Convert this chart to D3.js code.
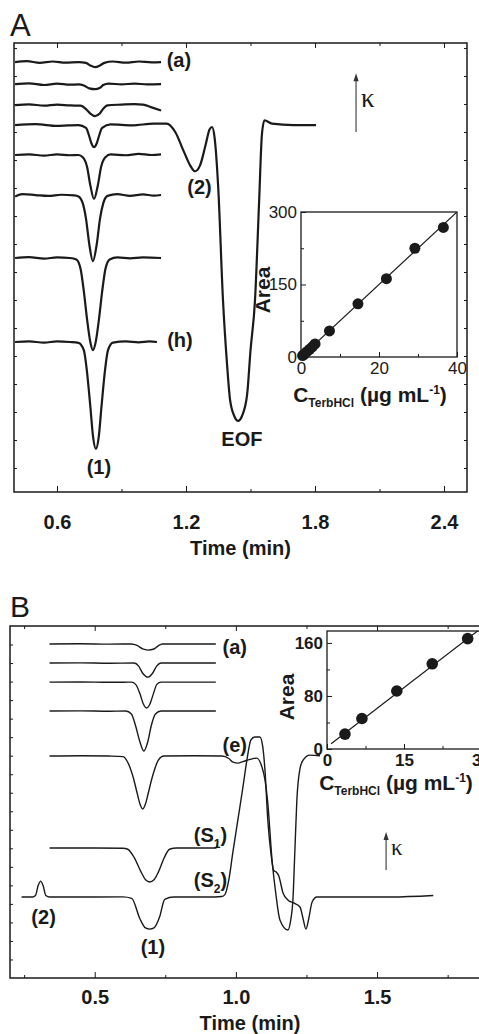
<!DOCTYPE html>
<html>
<head>
<meta charset="utf-8">
<script src="https://cdn.jsdelivr.net/npm/d3@7"></script>
<style>
body { margin: 0; background: #fff; }
svg { display: block; }
text { font-family: "Liberation Sans", Arial, sans-serif; fill: #1a1a1a; }
</style>
</head>
<body>
<div id="fig"></div>
<script>
// ---- panel A electropherograms: [time (min), signal (a.u.)] ----
const traceAa = [[0.405,14.5],[0.46,14.53],[0.52,14.47],[0.58,14.52],[0.64,14.48],[0.70,14.5],[0.735,14.47],[0.755,14.38],[0.777,14.32],[0.80,14.38],[0.82,14.47],[0.86,14.52],[0.92,14.48],[0.98,14.52],[1.04,14.49],[1.084,14.5]]
const traceAb = [[0.405,13.71],[0.47,13.74],[0.54,13.68],[0.60,13.73],[0.66,13.69],[0.70,13.7],[0.725,13.66],[0.75,13.56],[0.777,13.53],[0.80,13.58],[0.815,13.68],[0.84,13.73],[0.90,13.7],[0.96,13.73],[1.02,13.7],[1.084,13.71]]
const traceAc = [[0.405,12.96],[0.47,12.99],[0.54,12.94],[0.60,12.98],[0.66,12.95],[0.71,12.94],[0.735,12.82],[0.755,12.66],[0.777,12.57],[0.80,12.67],[0.815,12.83],[0.835,12.95],[0.90,12.98],[0.96,13.0],[1.0,12.98],[1.04,12.88],[1.084,12.77]]
const traceAd = [[0.405,12.25],[0.5,12.28],[0.6,12.22],[0.7,12.25],[0.735,12.15],[0.75,11.85],[0.76,11.6],[0.772,11.46],[0.785,11.6],[0.795,11.85],[0.81,12.15],[0.85,12.27],[0.95,12.24],[1.05,12.3],[1.11,12.3],[1.15,12.0],[1.19,11.3],[1.22,10.8],[1.242,10.6],[1.265,10.8],[1.29,11.5],[1.31,12.1],[1.321,12.18],[1.333,11.8],[1.35,10.0],[1.372,6.0],[1.39,3.8],[1.405,2.43],[1.425,1.85],[1.442,1.68],[1.46,1.85],[1.484,2.6],[1.50,4.2],[1.521,6.0],[1.54,9.5],[1.553,11.9],[1.565,12.42],[1.6,12.3],[1.7,12.25],[1.805,12.25]]
const traceAe = [[0.405,11.18],[0.47,11.2],[0.54,11.16],[0.60,11.2],[0.66,11.17],[0.70,11.18],[0.72,11.1],[0.74,10.75],[0.755,10.1],[0.772,9.61],[0.79,10.1],[0.805,10.75],[0.825,11.1],[0.85,11.2],[0.92,11.17],[0.98,11.22],[1.04,11.18],[1.084,11.2]]
const traceAf = [[0.405,9.7],[0.44,9.78],[0.5,9.75],[0.56,9.72],[0.62,9.76],[0.68,9.74],[0.70,9.7],[0.72,9.45],[0.735,8.9],[0.75,8.0],[0.767,7.39],[0.785,8.0],[0.80,8.9],[0.815,9.45],[0.835,9.72],[0.88,9.78],[0.94,9.72],[1.0,9.77],[1.05,9.73],[1.084,9.75]]
const traceAg = [[0.405,7.5],[0.47,7.53],[0.54,7.48],[0.60,7.52],[0.66,7.5],[0.69,7.45],[0.71,7.1],[0.725,6.3],[0.74,5.3],[0.755,4.5],[0.767,4.21],[0.78,4.5],[0.795,5.3],[0.81,6.3],[0.825,7.1],[0.845,7.45],[0.88,7.52],[0.94,7.49],[1.0,7.52],[1.084,7.5]]
const traceAh = [[0.405,4.5],[0.47,4.52],[0.54,4.48],[0.60,4.52],[0.66,4.5],[0.70,4.47],[0.725,4.2],[0.74,3.4],[0.755,2.2],[0.768,1.1],[0.781,0.68],[0.794,1.1],[0.807,2.2],[0.822,3.4],[0.837,4.2],[0.86,4.48],[0.92,4.52],[0.98,4.49],[1.03,4.52],[1.065,4.5]]
const tracesA = [traceAa, traceAb, traceAc, traceAd, traceAe, traceAf, traceAg, traceAh]

// ---- panel B electropherograms ----
const traceBa = [[0.34,17.03],[0.45,17.04],[0.55,17.02],[0.63,17.03],[0.65,16.95],[0.67,16.76],[0.688,16.7],[0.71,16.76],[0.725,16.93],[0.74,17.03],[0.82,17.03],[0.929,17.03]]
const traceBb = [[0.34,16.0],[0.45,16.01],[0.55,15.99],[0.64,16.0],[0.655,15.85],[0.67,15.45],[0.688,15.24],[0.705,15.45],[0.72,15.85],[0.735,16.0],[0.82,16.0],[0.929,16.0]]
const traceBc = [[0.34,14.97],[0.45,14.98],[0.55,14.96],[0.63,14.97],[0.645,14.85],[0.66,14.35],[0.672,13.8],[0.684,13.57],[0.696,13.8],[0.708,14.35],[0.72,14.85],[0.735,14.97],[0.82,14.97],[0.929,14.97]]
const traceBd = [[0.34,13.41],[0.45,13.42],[0.55,13.4],[0.61,13.41],[0.63,13.25],[0.645,12.6],[0.66,11.75],[0.674,11.25],[0.688,11.75],[0.70,12.6],[0.715,13.25],[0.735,13.41],[0.82,13.41],[0.929,13.41]]
const traceBe = [[0.34,10.98],[0.45,11.0],[0.55,10.98],[0.60,10.95],[0.615,10.7],[0.635,9.9],[0.65,9.0],[0.66,8.4],[0.67,8.12],[0.68,8.4],[0.69,9.0],[0.705,9.9],[0.725,10.75],[0.745,10.98],[0.85,11.0],[0.95,10.98],[0.975,10.85],[0.99,10.65],[1.007,10.6],[1.025,10.68],[1.05,10.8],[1.074,10.87],[1.092,10.4],[1.103,9.7],[1.113,8.44],[1.128,5.37],[1.142,3.48],[1.156,2.13],[1.184,1.59],[1.195,2.2],[1.202,3.21],[1.209,5.9],[1.216,8.61],[1.227,10.3],[1.238,10.76],[1.262,11.03],[1.298,11.0]]
const traceBS1 = [[0.34,6.02],[0.5,6.02],[0.6,6.0],[0.617,5.95],[0.64,5.5],[0.665,4.7],[0.68,4.3],[0.695,4.18],[0.71,4.3],[0.725,4.7],[0.745,5.45],[0.765,5.95],[0.79,6.02],[0.9,6.02],[0.93,6.02],[0.936,6.4]]
const traceBS2 = [[0.241,3.37],[0.28,3.37],[0.29,3.45],[0.30,4.0],[0.3085,4.23],[0.317,4.0],[0.327,3.45],[0.34,3.37],[0.45,3.37],[0.6,3.38],[0.631,3.3],[0.66,2.2],[0.68,1.7],[0.695,1.64],[0.71,1.7],[0.73,2.3],[0.748,3.25],[0.78,3.37],[0.9,3.37],[0.95,3.4],[0.961,3.5],[0.975,4.3],[0.989,5.75],[1.007,7.53],[1.025,9.31],[1.039,10.76],[1.053,11.84],[1.067,12.01],[1.085,12.01],[1.095,11.5],[1.103,10.22],[1.113,7.53],[1.124,5.75],[1.134,4.8],[1.143,4.72],[1.152,4.5],[1.167,3.59],[1.185,3.2],[1.205,3.05],[1.227,2.83],[1.238,2.2],[1.248,1.64],[1.258,2.2],[1.27,3.1],[1.287,3.37],[1.4,3.37],[1.55,3.37],[1.699,3.45]]
const tracesB = [traceBa, traceBb, traceBc, traceBd, traceBe, traceBS1, traceBS2]

// ---- axis ticks ----
const timeTicksA = [0.6, 1.2, 1.8, 2.4]
const timeMinorA = [0.9, 1.5, 2.1]
const timeTicksB = [0.5, 1.0, 1.5]
const timeMinorB = [0.25, 0.75, 1.25, 1.75]

// ---- calibration insets ----
const concA = [0.4, 0.9, 1.5, 2.2, 2.9, 3.6, 7.3, 14.6, 21.9, 29.2, 36.5]
const areaA = [3, 6, 11, 16, 21, 27, 54, 110, 162, 225, 268]
const fitA = [[0, 0], [40, 300]]
const concTicksA = [0, 20, 40], concMinorA = [10, 30]
const areaTicksA = [0, 150, 300], areaMinorA = [75, 225]

const concB = [3.5, 6.8, 13.6, 20.5, 27.4]
const areaB = [22.5, 46, 87.5, 128.5, 166.5]
const fitB = [[0.8, 8], [30, 182]]
const concTicksB = [0, 15, 30], concMinorB = [7.5, 22.5]
const areaTicksB = [0, 80, 160], areaMinorB = [40, 120]

// peak labels [text, sub, time, signal]
const labelsA = [['(a)', '', 1.167, 14.57], ['(h)', '', 1.172, 4.57], ['(2)', '', 1.263, 10.04], ['EOF', '', 1.46, 1.04], ['(1)', '', 0.795, 0.04]]
const labelsB = [['(a)', '', 0.996, 16.86], ['(e)', '', 0.996, 11.57], ['(S', '1', 0.91, 6.72], ['(S', '2', 0.91, 4.29], ['(2)', '', 0.319, 2.29], ['(1)', '', 0.706, 0.67]]

// conductivity arrows [time, from, to]
const kappaA = [1.991, 12.0, 14.1]
const kappaB = [1.532, 4.83, 6.88]

const W = 479, H = 1034
const ink = '#1a1a1a'
const svg = d3.select('#fig').append('svg').attr('width', W).attr('height', H)

const xA = d3.scaleLinear().domain([0.4, 2.507]).range([14, 467])
const yA = d3.scaleLinear().domain([-0.857, 15.18]).range([492, 43])
const xB = d3.scaleLinear().domain([0.2, 1.9]).range([10, 490])
const yB = d3.scaleLinear().domain([-1, 18]).range([978, 626])

const tickGroup = (g, axis, transform) => {
    let a = g.append('g').attr('transform', transform).call(axis)
    a.select('.domain').remove()
    a.selectAll('line').attr('stroke', ink).attr('stroke-width', 1)
    return a
}

const drawFrame = (g, x, y, sw) => {
    g.append('rect')
        .attr('x', x.range()[0]).attr('y', y.range()[1])
        .attr('width', x.range()[1] - x.range()[0])
        .attr('height', y.range()[0] - y.range()[1])
        .attr('fill', 'none').attr('stroke', ink).attr('stroke-width', sw)
}

const drawMain = (g, x, y, major, minor, yticks, pad, fmt, traces, sw) => {
    let b = y.range()[0], t = y.range()[1], l = x.range()[0], r = x.range()[1]
    tickGroup(g, d3.axisBottom(x).tickValues(major).tickSize(-6).tickPadding(pad).tickFormat(fmt), `translate(0,${b})`)
        .selectAll('text').attr('font-size', 20).attr('font-weight', 'bold')
        .style('font-family', '"Liberation Sans", Arial, sans-serif').attr('fill', ink)
    tickGroup(g, d3.axisBottom(x).tickValues(minor).tickSize(-3).tickFormat(''), `translate(0,${b})`)
    tickGroup(g, d3.axisTop(x).tickValues(major).tickSize(-5).tickFormat(''), `translate(0,${t})`)
    tickGroup(g, d3.axisTop(x).tickValues(minor).tickSize(-3).tickFormat(''), `translate(0,${t})`)
    tickGroup(g, d3.axisLeft(y).tickValues(yticks).tickSize(-3).tickFormat(''), `translate(${l},0)`)
    tickGroup(g, d3.axisRight(y).tickValues(yticks).tickSize(-3).tickFormat(''), `translate(${r},0)`)
    drawFrame(g, x, y, 1.5)

    let line = d3.line().x(d => x(d[0])).y(d => y(d[1])).curve(d3.curveMonotoneX)
    g.append('g').selectAll('path')
        .data(traces)
        .enter()
        .append('path')
        .attr('d', line)
        .attr('fill', 'none')
        .attr('stroke', ink)
        .attr('stroke-width', sw)
        .attr('stroke-linejoin', 'round')
}

const drawLabels = (g, x, y, labels) => {
    let txt = g.append('g').selectAll('text')
        .data(labels)
        .enter()
        .append('text')
        .attr('x', d => x(d[2]))
        .attr('y', d => y(d[3]))
        .attr('dy', '0.36em')
        .attr('text-anchor', 'middle')
        .attr('font-size', 20)
        .attr('font-weight', 'bold')
    txt.append('tspan').text(d => d[0])
    txt.filter(d => d[1] != '').append('tspan').attr('font-size', 12).attr('dy', 6).text(d => d[1])
    txt.filter(d => d[1] != '').append('tspan').attr('dy', -6).text(')')
}

const drawKappa = (g, x, y, k, fs) => {
    let px = x(k[0]), y0 = y(k[1]), y1 = y(k[2])
    g.append('line').attr('x1', px).attr('x2', px).attr('y1', y0).attr('y2', y1 + 7)
        .attr('stroke', '#555').attr('stroke-width', 1.3)
    g.append('path').attr('d', `M${px - 2.6},${y1 + 8}L${px},${y1}L${px + 2.6},${y1 + 8}Z`).attr('fill', '#333')
    g.append('text').attr('x', px + 5).attr('y', (y0 + y1) / 2 + 4)
        .attr('font-size', fs).style('font-family', '"Liberation Serif", "DejaVu Serif", serif')
        .attr('fill', '#333').text('\u03ba')
}

const xLabel = (g, cx, cy, fs) => {
    let t = g.append('text').attr('x', cx).attr('y', cy).attr('text-anchor', 'middle')
        .attr('font-size', fs).attr('font-weight', 'bold')
    t.append('tspan').text('C')
    t.append('tspan').attr('font-size', 12).attr('dy', 5).text('TerbHCl')
    t.append('tspan').attr('dy', -5).text(' (\u00b5g mL')
    t.append('tspan').attr('font-size', 12).attr('dy', -8).text('-1')
    t.append('tspan').attr('dy', 8).text(')')
}

const drawInset = (g, x, y, conc, area, fit, cT, cM, aT, aM, bold, r, areaPos, labelPos) => {
    let fw = bold ? 'bold' : 'normal'
    let b = y.range()[0], t = y.range()[1], l = x.range()[0], rr = x.range()[1]
    let id = 'clip' + Math.round(l)
    g.append('clipPath').attr('id', id).append('rect')
        .attr('x', l).attr('y', t).attr('width', rr - l).attr('height', b - t)

    let ax = tickGroup(g, d3.axisBottom(x).tickValues(cT).tickSize(-5).tickPadding(5).tickFormat(d3.format('d')), `translate(0,${b})`)
    ax.selectAll('text').attr('font-size', 17).attr('font-weight', fw)
        .style('font-family', '"Liberation Sans", Arial, sans-serif').attr('fill', ink)
    tickGroup(g, d3.axisBottom(x).tickValues(cM).tickSize(-3).tickFormat(''), `translate(0,${b})`)
    let ay = tickGroup(g, d3.axisLeft(y).tickValues(aT).tickSize(-5).tickPadding(4).tickFormat(d3.format('d')), `translate(${l},0)`)
    ay.selectAll('text').attr('font-size', 17).attr('font-weight', fw)
        .style('font-family', '"Liberation Sans", Arial, sans-serif').attr('fill', ink)
    tickGroup(g, d3.axisLeft(y).tickValues(aM).tickSize(-3).tickFormat(''), `translate(${l},0)`)
    drawFrame(g, x, y, 1.3)

    g.append('path')
        .attr('d', d3.line().x(d => x(d[0])).y(d => y(d[1]))(fit))
        .attr('clip-path', `url(#${id})`)
        .attr('stroke', ink).attr('stroke-width', 1.2).attr('fill', 'none')

    g.append('g').selectAll('circle')
        .data(conc)
        .enter()
        .append('circle')
        .attr('cx', d => x(d))
        .attr('cy', (d, i) => y(area[i]))
        .attr('r', r)
        .attr('fill', ink)

    g.append('text')
        .attr('transform', `translate(${areaPos[0]},${areaPos[1]}) rotate(-90)`)
        .attr('text-anchor', 'middle').attr('dy', '0.36em')
        .attr('font-size', 21).attr('font-weight', 'bold').text('Area')
    xLabel(g, labelPos[0], labelPos[1], 21)
}

// ---------------- panel A ----------------
let gA = svg.append('g')
svg.append('text').attr('x', 10).attr('y', 36).attr('font-size', 31).text('A')
drawMain(gA, xA, yA, timeTicksA, timeMinorA, d3.range(0, 16), 23, d3.format('.1f'), tracesA, 2.2)
gA.append('text').attr('x', d3.mean(xA.range())).attr('y', 555)
    .attr('text-anchor', 'middle').attr('font-size', 20).attr('font-weight', 'bold').text('Time (min)')
drawLabels(gA, xA, yA, labelsA)
drawKappa(gA, xA, yA, kappaA, 27)
drawInset(gA, d3.scaleLinear().domain([0, 40]).range([301, 457]), d3.scaleLinear().domain([0, 300]).range([357, 212]),
    concA, areaA, fitA, concTicksA, concMinorA, areaTicksA, areaMinorA, false, 5.5, [262, 290], [370, 402])

// ---------------- panel B ----------------
let gB = svg.append('g')
svg.append('text').attr('x', 10).attr('y', 617).attr('font-size', 30).text('B')
drawMain(gB, xB, yB, timeTicksB, timeMinorB, d3.range(0, 18), 12, d3.format('.1f'), tracesB, 1.4)
gB.append('text').attr('x', 250).attr('y', 1030)
    .attr('text-anchor', 'middle').attr('font-size', 20).attr('font-weight', 'bold').text('Time (min)')
drawLabels(gB, xB, yB, labelsB)
drawKappa(gB, xB, yB, kappaB, 23)
drawInset(gB, d3.scaleLinear().domain([0, 30]).range([327, 481]), d3.scaleLinear().domain([0, 178]).range([749, 631]),
    concB, areaB, fitB, concTicksB, concMinorB, areaTicksB, areaMinorB, true, 5.8, [286, 697], [396, 790])
</script>
</body>
</html>
